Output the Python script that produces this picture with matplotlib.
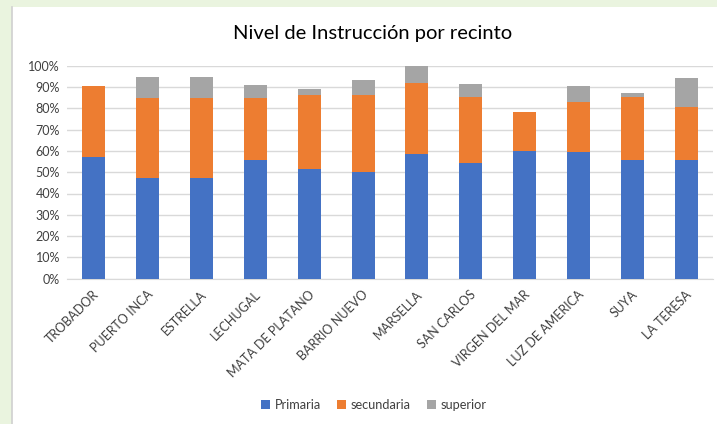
import numpy as np
import matplotlib
matplotlib.use('Agg')
import matplotlib.pyplot as plt
from matplotlib.patches import Rectangle
from matplotlib.ticker import PercentFormatter
import matplotlib.transforms as mtrans

recintos = ['TROBADOR', 'PUERTO INCA', 'ESTRELLA', 'LECHUGAL', 'MATA DE PLATANO',
            'BARRIO NUEVO', 'MARSELLA', 'SAN CARLOS', 'VIRGEN DEL MAR',
            'LUZ DE AMERICA', 'SUYA', 'LA TERESA']
primaria = [57.0, 47.4, 47.4, 55.9, 51.4, 50.1, 58.5, 54.2, 60.0, 59.5, 55.6, 55.6]
secundaria = [33.3, 37.6, 37.6, 29.1, 35.0, 36.3, 33.4, 31.1, 18.3, 23.5, 29.7, 25.0]
superior = [0.0, 9.8, 9.8, 6.1, 2.8, 6.9, 8.1, 6.1, 0.0, 7.3, 1.9, 13.6]

plt.rcParams['font.family'] = ['Lato', 'DejaVu Sans']
txtcol = '#404040'

fig = plt.figure(figsize=(7.17, 4.24), dpi=100)
fig.patch.set_facecolor('white')

# green slide background peeking out at left and top
green = '#eaf4df'
fig.patches.append(Rectangle((0, 0), 11.5/717, 1, transform=fig.transFigure,
                             facecolor=green, edgecolor='none', zorder=0))
fig.patches.append(Rectangle((0, 1 - 7/424), 1, 7/424, transform=fig.transFigure,
                             facecolor=green, edgecolor='none', zorder=0))
fig.add_artist(plt.Line2D([11.5/717, 11.5/717], [0, 1 - 7/424], transform=fig.transFigure,
                          color='#d0d0d0', lw=1.2))

ax = fig.add_axes([67/717, 1 - 278.7/424, 646/717, 213/424])

x = np.arange(len(recintos))
p = np.array(primaria)
s = np.array(secundaria)
u = np.array(superior)
w = 0.43
ax.bar(x, p, w, color='#4472C4', label='Primaria', zorder=3)
ax.bar(x, s, w, bottom=p, color='#ED7D31', label='secundaria', zorder=3)
ax.bar(x, u, w, bottom=p + s, color='#A5A5A5', label='superior', zorder=3)

ax.set_xlim(-0.5, len(recintos) - 0.5)
ax.set_ylim(0, 100)
ax.set_yticks(np.arange(0, 101, 10))
ax.yaxis.set_major_formatter(PercentFormatter(decimals=0))
ax.grid(axis='y', color='#d9d9d9', lw=1, zorder=0)
for sp in ['top', 'right', 'left']:
    ax.spines[sp].set_visible(False)
ax.spines['bottom'].set_color('#d9d9d9')
ax.tick_params(axis='both', length=0, labelsize=9, colors=txtcol)
ax.tick_params(axis='y', pad=5)
ax.set_xticks(x)
ax.set_xticklabels(recintos, rotation=45, ha='right', va='top', rotation_mode='anchor',
                   fontsize=9)
ax.tick_params(axis='x', pad=7)
shift = mtrans.ScaledTranslation(-1/100, 0, fig.dpi_scale_trans)
for lbl in ax.get_xticklabels():
    lbl.set_transform(lbl.get_transform() + shift)

fig.text(0.519, 1 - 33/424, 'Nivel de Instrucción por recinto', ha='center', va='center',
         fontsize=14.5, color='#000000')

leg = fig.legend(loc='center', bbox_to_anchor=(374/717, 1 - 405/424), ncol=3, frameon=False,
                 fontsize=9.2, handlelength=0.7, handleheight=0.7, columnspacing=1.3,
                 handletextpad=0.35)
for t in leg.get_texts():
    t.set_color(txtcol)

fig.savefig('out.png', dpi=100)
